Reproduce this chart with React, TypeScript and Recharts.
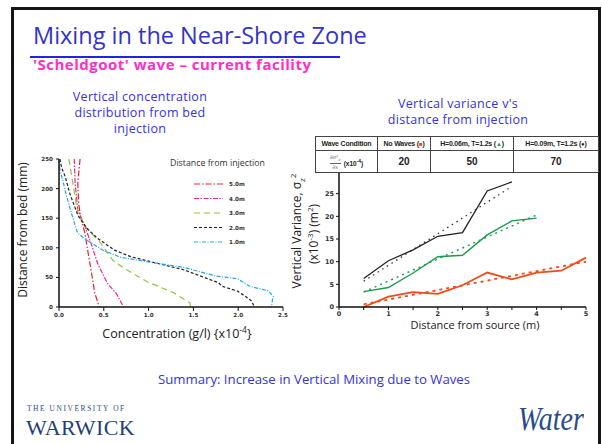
import React from 'react';
import { LineChart, Line, XAxis, YAxis, Legend } from 'recharts';

// ---------- Left chart: vertical concentration profiles ----------
const concTicks = [0, 0.5, 1, 1.5, 2, 2.5];
const heightTicks = [0, 50, 100, 150, 200, 250];

const profile5m = [
  { c: 0.235, h: 250 }, { c: 0.21, h: 209 }, { c: 0.22, h: 175 }, { c: 0.24, h: 153 },
  { c: 0.29, h: 124 }, { c: 0.32, h: 96 }, { c: 0.37, h: 51 }, { c: 0.4, h: 23 }, { c: 0.45, h: 0 },
];
const profile4m = [
  { c: 0.17, h: 250 }, { c: 0.18, h: 209 }, { c: 0.21, h: 164 }, { c: 0.29, h: 136 },
  { c: 0.37, h: 102 }, { c: 0.43, h: 74 }, { c: 0.54, h: 40 }, { c: 0.64, h: 23 }, { c: 0.72, h: 0 },
];
const profile3m = [
  { c: 0.11, h: 250 }, { c: 0.16, h: 204 }, { c: 0.21, h: 158 }, { c: 0.31, h: 133 },
  { c: 0.47, h: 107 }, { c: 0.6, h: 79 }, { c: 0.72, h: 66 }, { c: 0.98, h: 43 },
  { c: 1.28, h: 24 }, { c: 1.46, h: 7 }, { c: 1.47, h: 0 },
];
const profile2m = [
  { c: 0.01, h: 250 }, { c: 0.03, h: 235 }, { c: 0.07, h: 220 }, { c: 0.12, h: 192 },
  { c: 0.21, h: 155 }, { c: 0.31, h: 133 }, { c: 0.43, h: 116 }, { c: 0.62, h: 96 },
  { c: 0.8, h: 85 }, { c: 1.01, h: 77 }, { c: 1.39, h: 63 }, { c: 1.78, h: 41 },
  { c: 1.82, h: 35 }, { c: 1.99, h: 27 }, { c: 2.08, h: 18 }, { c: 2.15, h: 10 }, { c: 2.18, h: 0 },
];
const profile1m = [
  { c: 0.0, h: 250 }, { c: 0.01, h: 232 }, { c: 0.05, h: 209 }, { c: 0.085, h: 187 },
  { c: 0.14, h: 158 }, { c: 0.2, h: 128 }, { c: 0.23, h: 122 }, { c: 0.32, h: 112 },
  { c: 0.49, h: 96 }, { c: 0.69, h: 84 }, { c: 1.0, h: 76 }, { c: 1.39, h: 67 },
  { c: 1.76, h: 52 }, { c: 1.99, h: 48 }, { c: 2.13, h: 35 }, { c: 2.34, h: 27 },
  { c: 2.39, h: 18 }, { c: 2.38, h: 10 }, { c: 2.37, h: 0 },
];

const profileSeries = [
  { name: '5.0m', data: profile5m, color: '#e3262b', dash: '6 2 1.5 2' },
  { name: '4.0m', data: profile4m, color: '#ec2a8a', dash: '5 1.5 1.5 1.5' },
  { name: '3.0m', data: profile3m, color: '#8dc63f', dash: '6 4' },
  { name: '2.0m', data: profile2m, color: '#222222', dash: '3 2' },
  { name: '1.0m', data: profile1m, color: '#2aa4e8', dash: '4 1.5 1 1.5' },
];

// ---------- Right chart: vertical variance vs distance ----------
const distTicks = [0, 0.5, 1, 1.5, 2, 2.5, 3, 3.5, 4, 4.5, 5];
const varTicks = [0, 5, 10, 15, 20, 25];
const distances = [0.5, 1, 1.5, 2, 2.5, 3, 3.5, 4, 4.5, 5];
const varH009 = [6.3, 10.2, 12.6, 15.6, 16.4, 25.6, 27.6];
const varH006 = [3.4, 4.3, 7.5, 11.1, 11.4, 15.9, 19.0, 19.6];
const varNoWaves = [0, 2.3, 3.3, 2.9, 4.8, 7.6, 6.1, 7.6, 8.0, 10.9];
const fitH009 = [{ x: 0.5, v: 5.7 }, { x: 3.5, v: 26.6 }];
const fitH006 = [{ x: 0.5, v: 3.3 }, { x: 4, v: 20.3 }];
const fitNoWaves = [{ x: 0.5, v: 0.6 }, { x: 5, v: 10.0 }];

const toPoints = (vals: number[]) => vals.map((v, i) => ({ x: distances[i], v }));

// ---------- Table ----------
const conditions = ['No Waves', 'H=0.06m, T=1.2s', 'H=0.09m, T=1.2s'];
const gradients = [20, 50, 70];
const markerGlyphs = ['\u25A0', '\u25B2', '\u25CF'];
const markerColors = ['#f24a18', '#1a9a4a', '#222222'];

const comic = '"Open Sans", "DejaVu Sans", sans-serif';
const tickFont = { fontSize: 5.6, fontWeight: 700, fill: '#333', fontFamily: '"DejaVu Sans", sans-serif' };

const ProfileLegend = () => (
  <svg width={115} height={95} style={{ overflow: 'visible' }}>
    <text x={5} y={12} fontSize={8.8} fill="#333" fontFamily={comic}>Distance from injection</text>
    {profileSeries.map((s, i) => (
      <g key={s.name}>
        <line x1={29} x2={58} y1={30 + i * 14.5} y2={30 + i * 14.5} stroke={s.color} strokeWidth={1.2} strokeDasharray={s.dash} />
        <text x={64} y={32 + i * 14.5} fontSize={5.6} fontWeight={700} fill="#333" fontFamily='"DejaVu Sans", sans-serif'>{s.name}</text>
      </g>
    ))}
  </svg>
);

const abs = (left: number, top: number, extra: React.CSSProperties = {}): React.CSSProperties => ({
  position: 'absolute', left, top, ...extra,
});

export default function App() {
  return (
    <div style={{ position: 'absolute', left: 0, top: 0, width: 602, height: 444, background: '#fff', overflow: 'hidden', fontFamily: comic }}>
      {/* slide frame */}
      <div style={abs(11, 7, { width: 590, height: 460, border: '3px solid #151515', boxSizing: 'border-box' })} />

      {/* title */}
      <div style={abs(33, 22, { fontSize: 23.5, lineHeight: '26px', color: '#3434c4', whiteSpace: 'nowrap' })}>
        Mixing in the Near-Shore Zone
      </div>
      <div style={abs(30, 56, { width: 310, height: 2, background: '#2222e6' })} />
      <div style={abs(33, 56, { fontSize: 15, lineHeight: '17px', fontWeight: 700, letterSpacing: 0.5, color: '#ff2fc6', whiteSpace: 'nowrap' })}>
        'Scheldgoot' wave – current facility
      </div>

      {/* left title */}
      <div style={abs(40, 89, { width: 200, textAlign: 'center', fontSize: 12.5, lineHeight: '16px', letterSpacing: 0.3, color: '#3333e0' })}>
        Vertical concentration<br />distribution from bed<br />injection
      </div>

      {/* right title */}
      <div style={abs(358, 96, { width: 200, textAlign: 'center', fontSize: 12.5, lineHeight: '16px', letterSpacing: 0.3, color: '#3333e0' })}>
        Vertical variance v's<br />distance from injection
      </div>

      {/* left chart */}
      <div style={abs(0, 140)}>
        <LineChart width={300} height={200} margin={{ top: 19, right: 17, bottom: 13, left: 29 }}>
          <XAxis
            type="number" dataKey="c" domain={[0, 2.5]} ticks={concTicks}
            tickFormatter={(v: number) => v.toFixed(1)} tick={tickFont}
            axisLine={{ stroke: '#111', strokeWidth: 1.5 }} tickLine={{ stroke: '#111' }}
            tickSize={4} tickMargin={2} height={20} interval={0}
          />
          <YAxis
            type="number" domain={[0, 250]} ticks={heightTicks} tick={tickFont}
            axisLine={{ stroke: '#111', strokeWidth: 1.5 }} tickLine={{ stroke: '#111' }}
            tickSize={3} tickMargin={3} width={30} interval={0}
          />
          {profileSeries.map((s) => (
            <Line
              key={s.name} name={s.name} data={s.data} dataKey="h" type="linear"
              stroke={s.color} strokeWidth={1.2} strokeDasharray={s.dash}
              dot={false} activeDot={false} isAnimationActive={false}
            />
          ))}
          <Legend
            layout="horizontal" verticalAlign="middle" align="center"
            wrapperStyle={{ left: 165, top: 14, width: 115, height: 95 }}
            content={() => <ProfileLegend />}
          />
        </LineChart>
      </div>

      {/* left axis titles */}
      <div style={abs(22, 230, { transform: 'translate(-50%,-50%) rotate(-90deg)', fontSize: 12, color: '#222', whiteSpace: 'nowrap' })}>
        Distance from bed (mm)
      </div>
      <div style={abs(177, 333, { transform: 'translate(-50%,-50%)', fontSize: 12.5, color: '#222', whiteSpace: 'nowrap' })}>
        Concentration (g/l) {'{'}x10<sup style={{ fontSize: 8.5 }}>-4</sup>{'}'}
      </div>

      {/* right chart */}
      <div style={abs(300, 150)}>
        <LineChart width={302} height={190} margin={{ top: 21, right: 16, bottom: 13, left: 14 }}>
          <XAxis
            type="number" dataKey="x" domain={[0, 5]} ticks={distTicks} interval={0}
            tickFormatter={(v: number) => (Number.isInteger(v) ? String(v) : '')}
            tick={{ ...tickFont, fontSize: 6.5 }}
            axisLine={{ stroke: '#111', strokeWidth: 1.5 }} tickLine={{ stroke: '#111' }}
            tickSize={3} tickMargin={1} height={20}
          />
          <YAxis
            type="number" domain={[0, 30]} ticks={varTicks} interval={0}
            tick={{ ...tickFont, fontSize: 6.5 }}
            axisLine={{ stroke: '#111', strokeWidth: 1.5 }} tickLine={{ stroke: '#111' }}
            tickSize={3} tickMargin={2} width={25}
          />
          <Line data={fitH009} dataKey="v" type="linear" stroke="#333" strokeWidth={1.3} strokeDasharray="1.5 4" dot={false} activeDot={false} isAnimationActive={false} />
          <Line data={fitH006} dataKey="v" type="linear" stroke="#1a9a4a" strokeWidth={1.4} strokeDasharray="2 4" dot={false} activeDot={false} isAnimationActive={false} />
          <Line data={fitNoWaves} dataKey="v" type="linear" stroke="#f24a18" strokeWidth={1.8} strokeDasharray="3 4" dot={false} activeDot={false} isAnimationActive={false} />
          <Line data={toPoints(varH009)} dataKey="v" type="linear" stroke="#222" strokeWidth={1.3} dot={false} activeDot={false} isAnimationActive={false} />
          <Line data={toPoints(varH006)} dataKey="v" type="linear" stroke="#1a9a4a" strokeWidth={1.4} dot={false} activeDot={false} isAnimationActive={false} />
          <Line data={toPoints(varNoWaves)} dataKey="v" type="linear" stroke="#f24a18" strokeWidth={1.8} dot={false} activeDot={false} isAnimationActive={false} />
        </LineChart>
      </div>

      {/* right axis titles */}
      <div style={abs(297, 231, { transform: 'translate(-50%,-50%) rotate(-90deg)', fontSize: 12, color: '#222', whiteSpace: 'nowrap' })}>
        Vertical Variance, σ<sub style={{ fontSize: 8 }}>z</sub><sup style={{ fontSize: 8 }}>2</sup>
      </div>
      <div style={abs(313, 234, { transform: 'translate(-50%,-50%) rotate(-90deg)', fontSize: 12, color: '#222', whiteSpace: 'nowrap' })}>
        (x10<sup style={{ fontSize: 8 }}>-3</sup>) (m<sup style={{ fontSize: 8 }}>2</sup>)
      </div>
      <div style={abs(475, 324, { transform: 'translate(-50%,-50%)', fontSize: 11, color: '#222', whiteSpace: 'nowrap' })}>
        Distance from source (m)
      </div>

      {/* table */}
      <table style={{ position: 'absolute', left: 315, top: 136, width: 283, height: 36, borderCollapse: 'collapse', background: '#fff', border: '1.5px solid #222', fontFamily: '"Liberation Sans", Arial, sans-serif', fontWeight: 700, color: '#222', tableLayout: 'fixed' }}>
        <colgroup>
          <col style={{ width: 62 }} /><col style={{ width: 53 }} /><col style={{ width: 83 }} /><col style={{ width: 85 }} />
        </colgroup>
        <tbody>
          <tr style={{ height: 14 }}>
            <td style={{ border: '1px solid #444', fontSize: 7, padding: 0, textAlign: 'center', whiteSpace: 'nowrap', letterSpacing: -0.2 }}>Wave Condition</td>
            {conditions.map((c, i) => (
              <td key={c} style={{ border: '1px solid #444', fontSize: 7, padding: 0, textAlign: 'center', whiteSpace: 'nowrap', letterSpacing: -0.2 }}>
                {c} (<span style={{ color: markerColors[i], fontSize: 6 }}>{markerGlyphs[i]}</span>)
              </td>
            ))}
          </tr>
          <tr style={{ height: 22 }}>
            <td style={{ border: '1px solid #444', padding: 0, textAlign: 'center', whiteSpace: 'nowrap' }}>
              <span style={{ display: 'inline-block', verticalAlign: 'middle', textAlign: 'center', fontFamily: '"DejaVu Serif", serif', fontStyle: 'italic', fontWeight: 400, fontSize: 5.5, lineHeight: '6px', color: '#666' }}>
                <span style={{ display: 'block', borderBottom: '0.5px solid #666' }}>∂σ²<sub style={{ fontSize: 4 }}>z</sub></span>
                <span style={{ display: 'block' }}>∂x</span>
              </span>
              <span style={{ fontSize: 6.5, verticalAlign: 'middle', marginLeft: 3 }}>(x10<sup style={{ fontSize: 5 }}>-4</sup>)</span>
            </td>
            {gradients.map((g) => (
              <td key={g} style={{ border: '1px solid #444', padding: 0, textAlign: 'center', fontSize: 10 }}>{g}</td>
            ))}
          </tr>
        </tbody>
      </table>

      {/* summary */}
      <div style={abs(114, 370, { width: 400, textAlign: 'center', fontSize: 13.2, color: '#3333e0', whiteSpace: 'nowrap' })}>
        Summary: Increase in Vertical Mixing due to Waves
      </div>

      {/* logos */}
      <div style={abs(27, 404, { fontSize: 7.4, letterSpacing: 1.6, fontFamily: '"Liberation Serif", serif', color: '#2d4b80', whiteSpace: 'nowrap' })}>
        THE UNIVERSITY OF
      </div>
      <div style={abs(26, 416, { fontSize: 22, lineHeight: '24px', letterSpacing: 0.4, fontFamily: '"Liberation Serif", serif', color: '#1f3f78', whiteSpace: 'nowrap' })}>
        WARWICK
      </div>
      <div style={abs(518, 402, { fontSize: 28, lineHeight: '34px', fontStyle: 'italic', fontFamily: '"Liberation Serif", serif', color: '#2a4a8c', whiteSpace: 'nowrap', transform: 'scaleY(1.2)' })}>
        Water
      </div>
    </div>
  );
}
